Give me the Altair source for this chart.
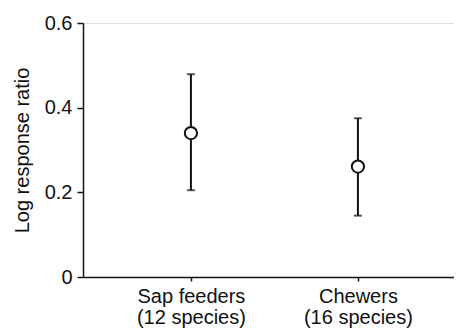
import altair as alt
import pandas as pd

groups = ["Sap feeders\n(12 species)", "Chewers\n(16 species)"]
means = [0.340, 0.261]
lower = [0.205, 0.145]
upper = [0.479, 0.375]
y_ticks = [0, 0.2, 0.4, 0.6]

df = pd.DataFrame({"group": groups, "mean": means, "lo": lower, "hi": upper})

FONT = "Liberation Sans"
ink = "#111111"

x_enc = alt.X(
    "group:N",
    sort=groups,
    scale=alt.Scale(type="point", padding=0.6108, align=0.529),
    axis=alt.Axis(
        title=None,
        labelAngle=0,
        labelExpr="split(datum.label, '\\n')",
        labelFont=FONT,
        labelFontSize=20,
        labelColor=ink,
        labelPadding=5,
        labelLineHeight=21,
        tickSize=4,
        tickColor=ink,
        tickWidth=1.5,
        domainColor=ink,
        domainWidth=1.5,
        grid=False,
    ),
)

y_scale = alt.Scale(domain=[0, 0.6], nice=False, zero=True)
y_axis = alt.Axis(
    title="Log response ratio",
    values=y_ticks,
    labelExpr="datum.value == 0 ? '0' : format(datum.value, '.1f')",
    labelFont=FONT,
    labelFontSize=20,
    labelColor=ink,
    labelPadding=5,
    tickSize=6,
    tickColor=ink,
    tickWidth=1.5,
    domainColor=ink,
    domainWidth=1.5,
    grid=False,
    titleFont=FONT,
    titleFontSize=20,
    titleFontWeight="normal",
    titleColor=ink,
    titlePadding=12,
)

base = alt.Chart(df)

rules = base.mark_rule(color=ink, strokeWidth=2).encode(
    x=x_enc,
    y=alt.Y("lo:Q", scale=y_scale, axis=y_axis),
    y2="hi:Q",
)
cap_lo = base.mark_tick(color=ink, thickness=2, size=8).encode(
    x=x_enc, y=alt.Y("lo:Q", scale=y_scale, axis=y_axis)
)
cap_hi = base.mark_tick(color=ink, thickness=2, size=8).encode(
    x=x_enc, y=alt.Y("hi:Q", scale=y_scale, axis=y_axis)
)
points = base.mark_point(
    shape="circle", filled=False, fill="white", fillOpacity=1,
    stroke=ink, strokeWidth=2, size=150, opacity=1
).encode(x=x_enc, y=alt.Y("mean:Q", scale=y_scale, axis=y_axis))

chart = (
    alt.layer(rules, cap_lo, cap_hi, points)
    .properties(
        width=371,
        height=254,
        autosize=alt.AutoSizeParams(type="none"),
        padding={"left": 75, "top": 15, "right": 0, "bottom": 51},
    )
    .configure_view(stroke=None)
    .configure_axis(grid=False)
    .configure(background="white")
)

chart.save("out.html", embed_options={"renderer": "svg", "actions": False})
